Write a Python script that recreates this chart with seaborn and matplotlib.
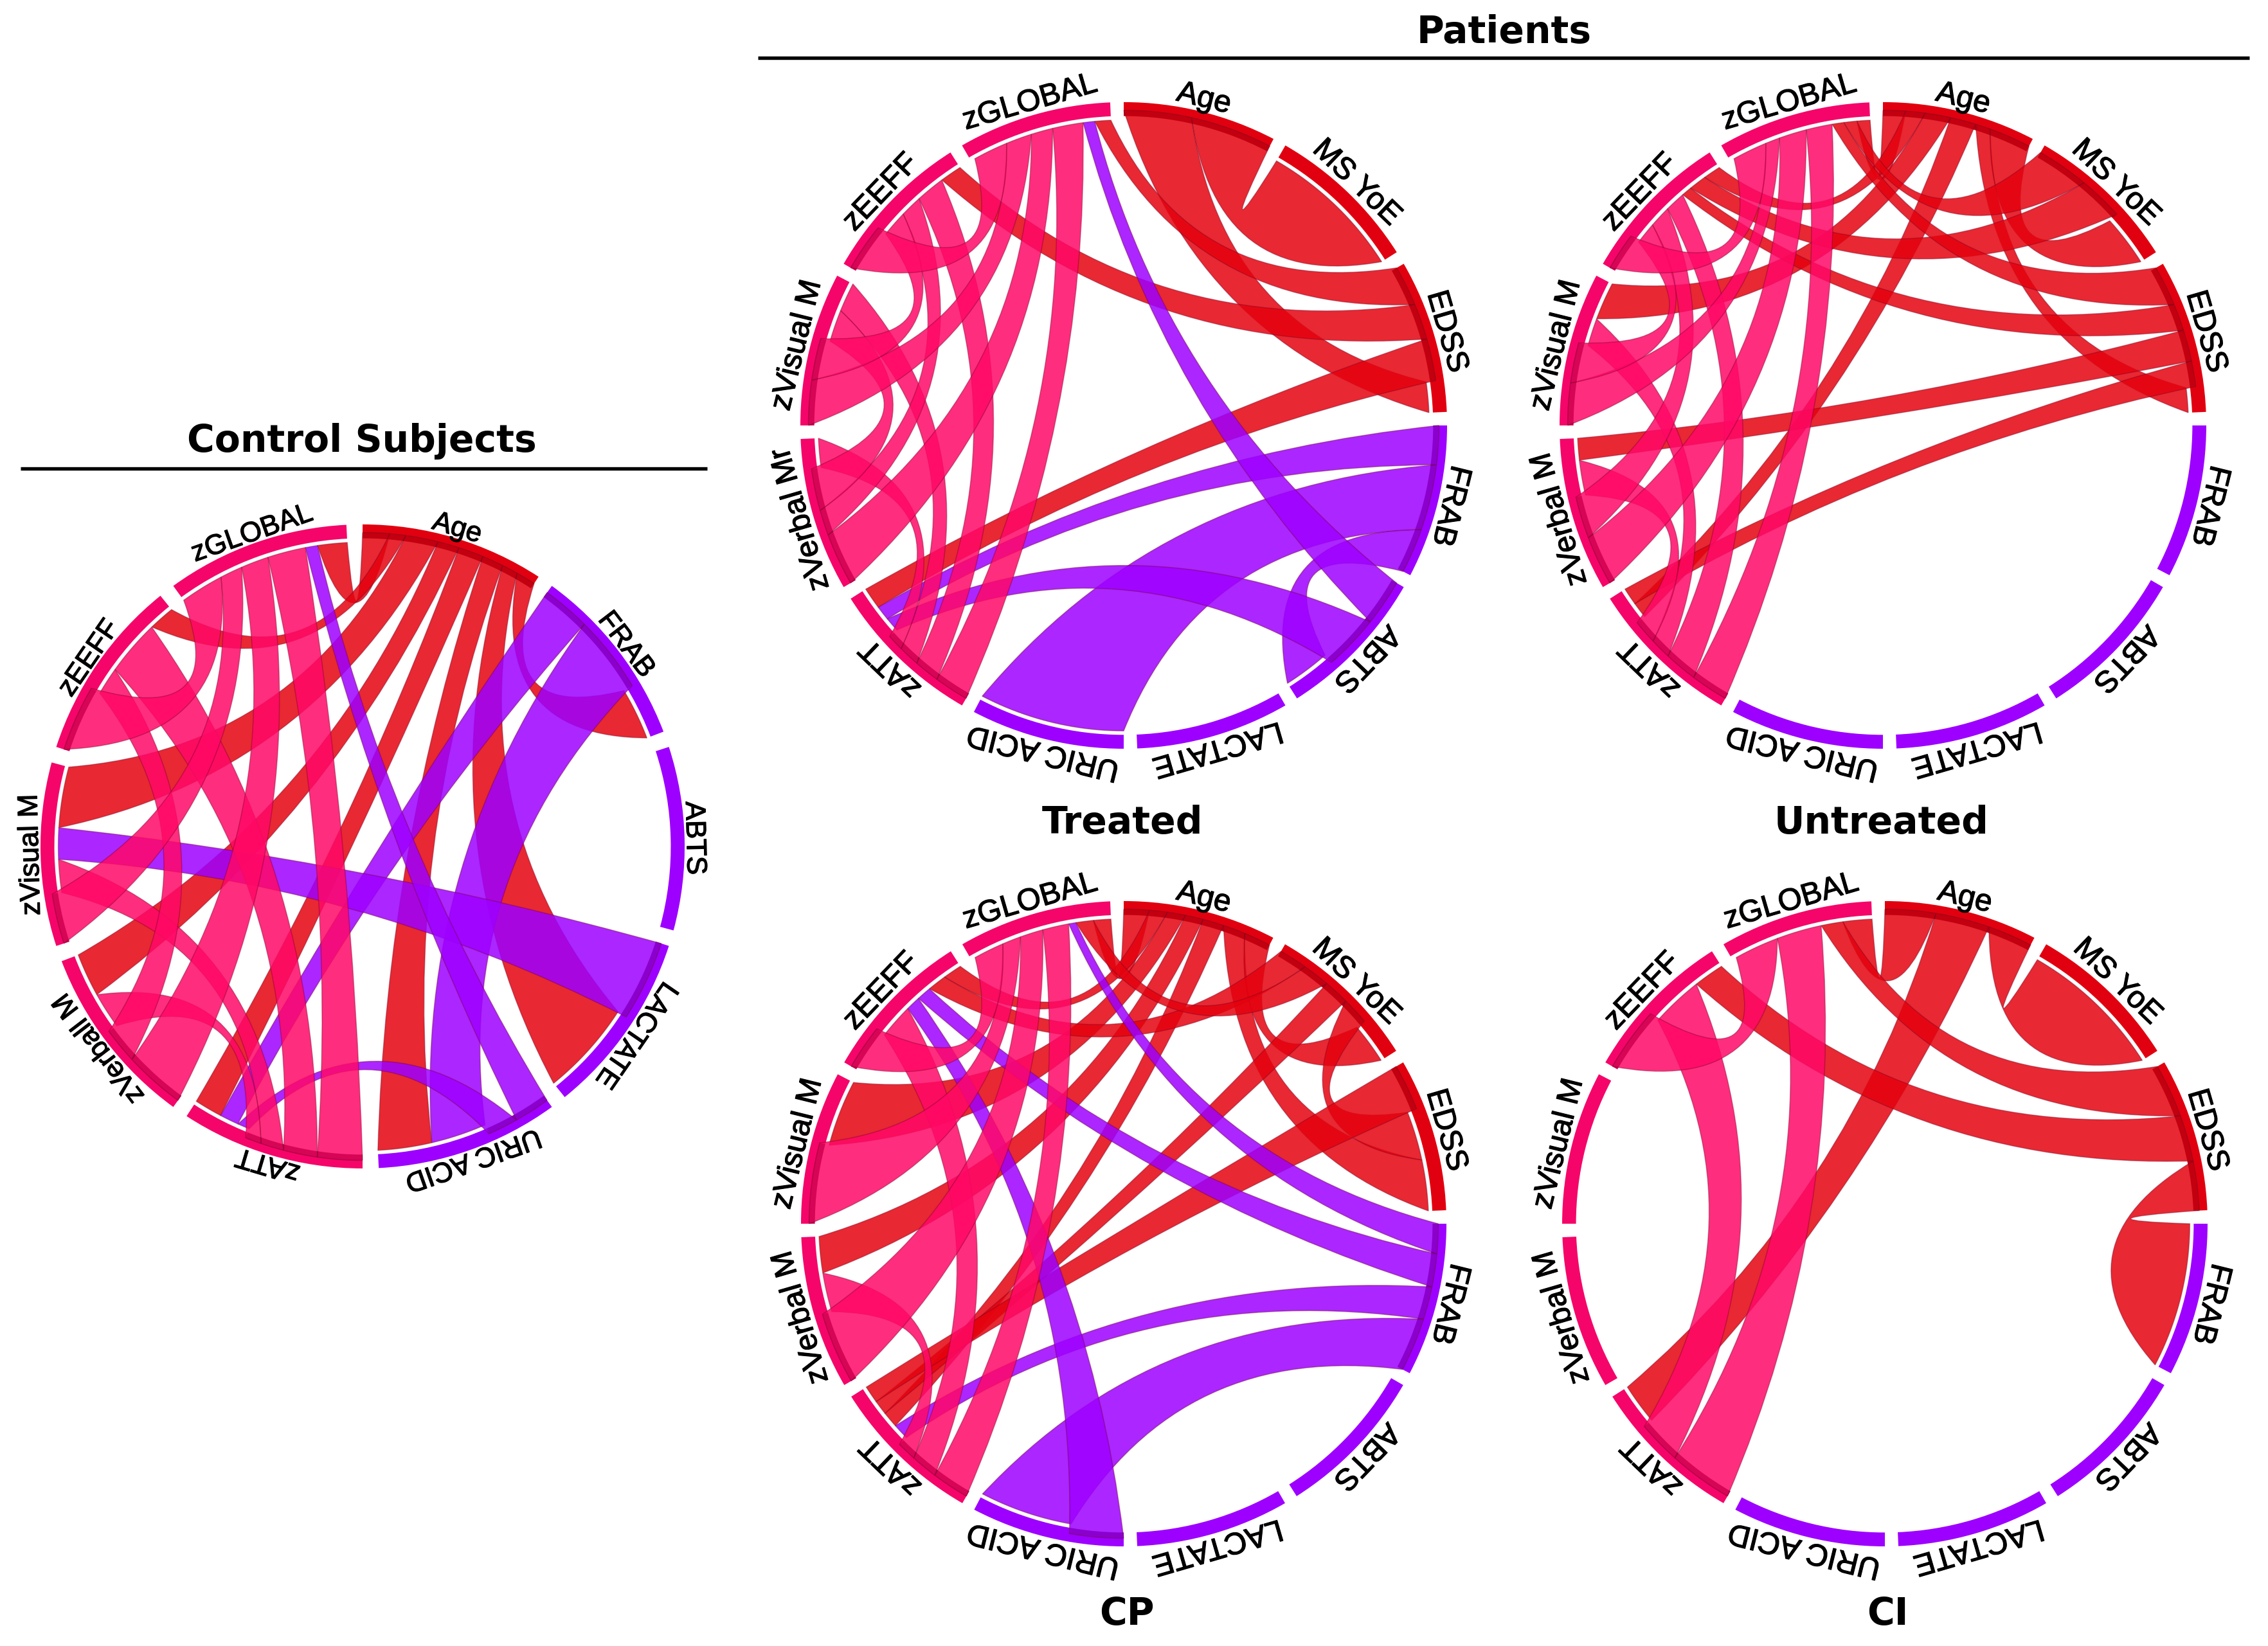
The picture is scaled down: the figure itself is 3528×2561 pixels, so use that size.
"""Chord diagrams of clinical and cognitive scores: control subjects and patient groups."""

import matplotlib

matplotlib.use("Agg")

import matplotlib.colors as mcolors
import matplotlib.patheffects as pe
import matplotlib.pyplot as plt
import numpy as np
import pandas as pd
import seaborn as sns
from matplotlib.patches import PathPatch, Wedge
from matplotlib.path import Path

# Sectors run clockwise from 12 o'clock, all the same size.
CONTROL_SECTORS = ["Age", "FRAB", "ABTS", "LACTATE", "URIC ACID", "zATT",
                   "zVerball M", "zVisual M", "zEEFF", "zGLOBAL"]
TREATED_SECTORS = ["Age", "MS YoE", "EDSS", "FRAB", "ABTS", "LACTATE", "URIC ACID",
                   "zATT", "zVerbal Mr", "zVisual M", "zEEFF", "zGLOBAL"]
PATIENT_SECTORS = ["Age", "MS YoE", "EDSS", "FRAB", "ABTS", "LACTATE", "URIC ACID",
                   "zATT", "zVerbal M", "zVisual M", "zEEFF", "zGLOBAL"]

RED_SECTORS = ["Age", "MS YoE", "EDSS"]

# Links: source, from %, to %, target, from %, to % (percent along each sector).
CONTROL_LINKS = [
    ("Age", 0, 15, "zGLOBAL", 83, 100),
    ("Age", 15, 24, "zEEFF", 85, 100),
    ("Age", 24, 42, "zVisual M", 65, 100),
    ("Age", 42, 54, "zVerball M", 75, 100),
    ("Age", 54, 68, "zATT", 84, 100),
    ("Age", 68, 80, "URIC ACID", 69, 100),
    ("Age", 80, 89, "LACTATE", 45, 100),
    ("Age", 89, 100, "FRAB", 70, 100),
    ("FRAB", 0, 27, "zATT", 73, 84),
    ("FRAB", 27, 70, "URIC ACID", 37, 69),
    ("LACTATE", 0, 45, "zVisual M", 47, 65),
    ("URIC ACID", 0, 20, "zGLOBAL", 76, 83),
    ("URIC ACID", 20, 37, "zATT", 66, 73),
    ("zATT", 0, 25, "zGLOBAL", 54, 76),
    ("zATT", 25, 44, "zEEFF", 53, 85),
    ("zATT", 44, 57, "zVisual M", 28, 47),
    ("zATT", 57, 66, "zVerball M", 54, 75),
    ("zVerball M", 0, 34, "zGLOBAL", 38, 54),
    ("zVerball M", 34, 54, "zEEFF", 37, 53),
    ("zVisual M", 0, 28, "zGLOBAL", 25, 38),
    ("zEEFF", 0, 37, "zGLOBAL", 0, 25),
]
TREATED_LINKS = [
    ("Age", 0, 45, "EDSS", 79, 100),
    ("Age", 45, 100, "MS YoE", 0, 100),
    ("EDSS", 0, 27, "zGLOBAL", 89, 100),
    ("EDSS", 27, 51, "zEEFF", 85, 100),
    ("EDSS", 51, 79, "zATT", 85, 100),
    ("FRAB", 0, 26, "zATT", 75, 85),
    ("FRAB", 26, 70, "URIC ACID", 0, 100),
    ("FRAB", 70, 100, "ABTS", 68, 100),
    ("ABTS", 0, 31, "zGLOBAL", 81, 89),
    ("ABTS", 31, 68, "zATT", 65, 75),
    ("zATT", 0, 23, "zGLOBAL", 60, 81),
    ("zATT", 23, 40, "zEEFF", 65, 85),
    ("zATT", 40, 54, "zVisual M", 80, 100),
    ("zATT", 54, 65, "zVerbal Mr", 80, 100),
    ("zVerbal Mr", 0, 35, "zGLOBAL", 45, 60),
    ("zVerbal Mr", 35, 52, "zEEFF", 50, 65),
    ("zVerbal Mr", 52, 80, "zVisual M", 58, 80),
    ("zVisual M", 0, 30, "zGLOBAL", 27, 45),
    ("zVisual M", 30, 58, "zEEFF", 32, 50),
    ("zEEFF", 0, 32, "zGLOBAL", 3, 27),
]
UNTREATED_LINKS = [
    ("Age", 0, 15, "zGLOBAL", 91, 100),
    ("Age", 15, 28, "zEEFF", 88, 100),
    ("Age", 28, 45, "zVisual M", 74, 100),
    ("Age", 45, 62, "zATT", 77, 88),
    ("Age", 62, 72, "EDSS", 83, 100),
    ("Age", 72, 100, "MS YoE", 65, 100),
    ("MS YoE", 0, 35, "zGLOBAL", 82, 91),
    ("MS YoE", 35, 65, "zEEFF", 76, 88),
    ("EDSS", 0, 27, "zGLOBAL", 74, 82),
    ("EDSS", 27, 45, "zEEFF", 69, 76),
    ("EDSS", 45, 66, "zVerbal M", 85, 100),
    ("EDSS", 66, 83, "zATT", 88, 100),
    ("zATT", 0, 25, "zGLOBAL", 56, 74),
    ("zATT", 25, 47, "zEEFF", 55, 69),
    ("zATT", 47, 61, "zVisual M", 55, 74),
    ("zATT", 61, 77, "zVerbal M", 61, 85),
    ("zVerbal M", 0, 33, "zGLOBAL", 37, 56),
    ("zVerbal M", 33, 61, "zEEFF", 40, 55),
    ("zVisual M", 0, 28, "zGLOBAL", 27, 37),
    ("zVisual M", 28, 55, "zEEFF", 25, 40),
    ("zEEFF", 0, 25, "zGLOBAL", 3, 27),
]
CP_LINKS = [
    ("Age", 0, 17, "zGLOBAL", 88, 100),
    ("Age", 17, 29, "zEEFF", 87, 100),
    ("Age", 29, 41, "zVisual M", 54, 100),
    ("Age", 41, 53, "zVerbal M", 75, 100),
    ("Age", 53, 67, "zATT", 67, 78),
    ("Age", 67, 82, "EDSS", 65, 100),
    ("Age", 82, 100, "MS YoE", 72, 100),
    ("MS YoE", 0, 19, "zEEFF", 74, 87),
    ("MS YoE", 19, 37, "zGLOBAL", 76, 88),
    ("MS YoE", 37, 54, "zATT", 78, 88),
    ("MS YoE", 54, 72, "EDSS", 31, 65),
    ("EDSS", 0, 31, "zATT", 88, 100),
    ("FRAB", 0, 20, "zGLOBAL", 71, 76),
    ("FRAB", 20, 42, "zEEFF", 64, 74),
    ("FRAB", 42, 64, "zATT", 56, 67),
    ("FRAB", 64, 100, "URIC ACID", 36, 100),
    ("URIC ACID", 0, 36, "zEEFF", 54, 64),
    ("zATT", 0, 25, "zGLOBAL", 53, 71),
    ("zATT", 25, 43, "zEEFF", 30, 54),
    ("zATT", 43, 56, "zVerbal M", 48, 75),
    ("zVerbal M", 0, 48, "zGLOBAL", 37, 53),
    ("zVisual M", 0, 54, "zGLOBAL", 24, 37),
    ("zEEFF", 0, 30, "zGLOBAL", 3, 24),
]
CI_LINKS = [
    ("Age", 0, 34, "zGLOBAL", 80, 100),
    ("Age", 34, 70, "zATT", 72, 100),
    ("Age", 70, 100, "MS YoE", 0, 100),
    ("EDSS", 0, 36, "zGLOBAL", 65, 80),
    ("EDSS", 36, 67, "zEEFF", 79, 100),
    ("EDSS", 67, 100, "FRAB", 0, 100),
    ("zATT", 0, 43, "zGLOBAL", 34, 65),
    ("zATT", 43, 72, "zEEFF", 43, 79),
    ("zEEFF", 0, 43, "zGLOBAL", 3, 34),
]

RED = "#E4020E"
PINK = "#FF0866"
PURPLE = "#9D00FF"
RING_RED = "#E1000F"
RING_PINK = "#F50569"

R_SOURCE = 0.975
R_TARGET = 0.945
R_RING = 0.957
SECTOR_FILL = 0.92  # part of each sector slot that is not gap
BOW_SLOPE = 0.85  # link control point: radius = slope * chord distance - offset
BOW_OFFSET = 0.25
BOW_MIN = 0.35  # lower bound on control radius, as a share of the chord distance


def sector_colors(name):
    if name.startswith("z"):
        return PINK, RING_PINK
    if name in RED_SECTORS:
        return RED, RING_RED
    return PURPLE, PURPLE


def control_point(center, p, q, radius):
    chord_mid = (p + q) / 2 - center
    dist = np.linalg.norm(chord_mid) / radius
    ctrl_r = max(BOW_SLOPE * dist - BOW_OFFSET, BOW_MIN * dist)
    return center + chord_mid / max(dist, 1e-6) * ctrl_r


def link_path(cx, cy, radius, a, b):
    """Ribbon between two arcs; a and b are (start_deg, end_deg, r) clockwise from the top."""

    def point(deg, r):
        t = np.radians(deg)
        return np.array([cx + r * radius * np.sin(t), cy - r * radius * np.cos(t)])

    def arc(start, end, r):
        return [point(d, r) for d in np.linspace(start, end, 24)]

    center = np.array([cx, cy])
    a_arc = arc(a[0], a[1], a[2])
    b_arc = arc(b[0], b[1], b[2])
    ctrl_1 = control_point(center, a_arc[-1], b_arc[0], radius)
    ctrl_2 = control_point(center, b_arc[-1], a_arc[0], radius)

    verts = list(a_arc) + [ctrl_1] + list(b_arc) + [ctrl_2, a_arc[0]]
    codes = ([Path.MOVETO] + [Path.LINETO] * 23 + [Path.CURVE3, Path.CURVE3]
             + [Path.LINETO] * 23 + [Path.CURVE3, Path.CURVE3])
    return Path(verts, codes)


def plot_chord(ax, sectors, links, cx, cy, radius, label_r, label_size):
    slot = 360 / len(sectors)
    links_df = pd.DataFrame(links, columns=["src", "s0", "s1", "dst", "d0", "d1"])

    def angle(name, pct):
        return sectors.index(name) * slot + slot * SECTOR_FILL * pct / 100

    for name in sectors:
        start, end = angle(name, 0), angle(name, 100)
        ax.add_patch(Wedge(
            (cx, cy), radius, start - 90, end - 90,
            width=radius * (1 - R_RING),
            facecolor=sector_colors(name)[1],
            edgecolor="none",
            zorder=1,
        ))
        mid = np.radians((start + end) / 2)
        ax.text(
            cx + label_r * radius * np.sin(mid),
            cy - label_r * radius * np.cos(mid),
            name,
            rotation=-np.degrees(mid),
            rotation_mode="anchor",
            ha="center",
            va="center",
            fontsize=label_size,
            family="Liberation Sans",
            color="black",
            path_effects=[pe.withStroke(linewidth=0.3, foreground="black")],
            zorder=4,
        )

    for row in links_df.itertuples():
        color = sector_colors(row.src)[0]
        path = link_path(
            cx, cy, radius,
            (angle(row.src, row.s0), angle(row.src, row.s1), R_SOURCE),
            (angle(row.dst, row.d0), angle(row.dst, row.d1), R_TARGET),
        )
        ax.add_patch(PathPatch(
            path,
            facecolor=mcolors.to_rgba(color, 0.85),
            edgecolor=(0.45, 0.0, 0.15, 0.4),
            linewidth=0.35,
            zorder=2,
        ))
        # the source end of a link runs into the ring and darkens it
        s_start, s_end = angle(row.src, row.s0), angle(row.src, row.s1)
        ax.add_patch(Wedge(
            (cx, cy), radius * R_SOURCE, s_start - 90, s_end - 90,
            width=radius * (R_SOURCE - R_RING),
            facecolor=(0.3, 0.0, 0.1, 0.22),
            edgecolor="none",
            zorder=3,
        ))


sns.set_theme(style="white")
fig = plt.figure(figsize=(11.76, 8.537), dpi=300)
ax = fig.add_axes([0, 0, 1, 1])
ax.set_xlim(0, 3528)
ax.set_ylim(2561, 0)
ax.axis("off")

plot_chord(ax, CONTROL_SECTORS, CONTROL_LINKS, 564, 1317, 501, 1.03, 10.5)
plot_chord(ax, TREATED_SECTORS, TREATED_LINKS, 1748, 662, 503, 1.04, 11.5)
plot_chord(ax, PATIENT_SECTORS, UNTREATED_LINKS, 2929, 662, 503, 1.04, 11.5)
plot_chord(ax, PATIENT_SECTORS, CP_LINKS, 1748, 1904, 502, 1.04, 11.5)
plot_chord(ax, PATIENT_SECTORS, CI_LINKS, 2932, 1904, 502, 1.04, 11.5)

titles = [
    ("Patients", 2340, 50),
    ("Control Subjects", 563, 686),
    ("Treated", 1746, 1280),
    ("Untreated", 2927, 1280),
    ("CP", 1753, 2511),
    ("CI", 2936, 2511),
]
for text, x, y in titles:
    ax.text(x, y, text, ha="center", va="center", fontsize=14, fontweight="bold",
            family="DejaVu Sans", color="black")

ax.plot([1179, 3499], [90, 90], color="black", linewidth=1.3, solid_capstyle="butt")
ax.plot([32, 1100], [729, 729], color="black", linewidth=1.3, solid_capstyle="butt")

fig.savefig("out.png", dpi=300, facecolor="white")
plt.close(fig)
